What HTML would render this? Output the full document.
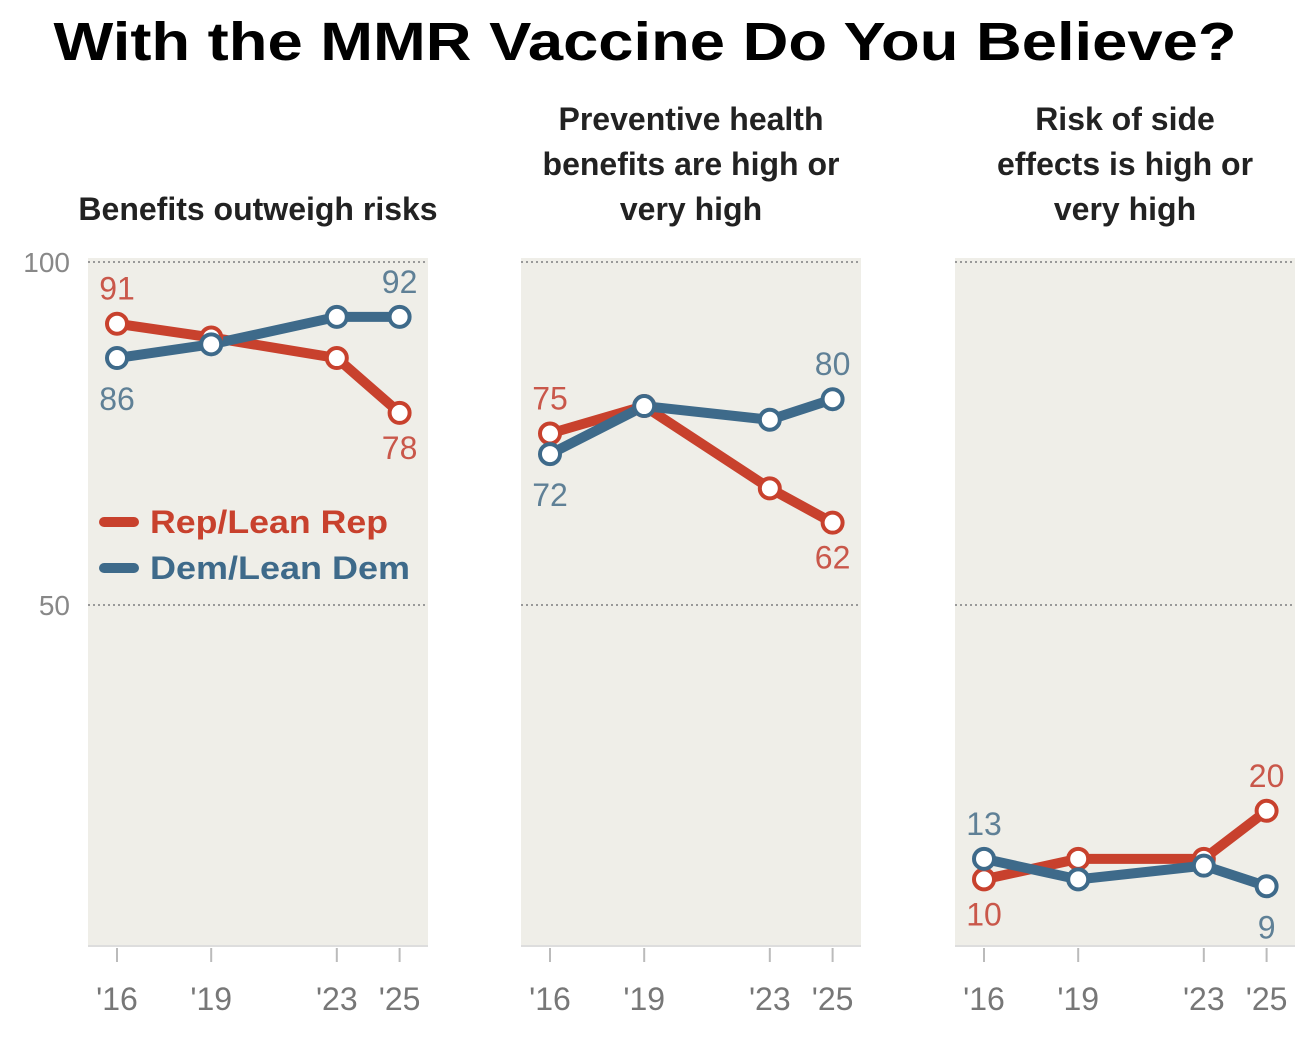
<!DOCTYPE html>
<html><head><meta charset="utf-8"><style>
body{margin:0;background:#fff;width:1298px;height:1042px;overflow:hidden;font-family:"Liberation Sans",sans-serif}
</style></head><body>
<svg id="chart" width="1298" height="1042" xmlns="http://www.w3.org/2000/svg" font-family="Liberation Sans, sans-serif">
<text x="645" y="60" text-anchor="middle" font-size="54" font-weight="bold" fill="#000" textLength="1183" lengthAdjust="spacingAndGlyphs">With the MMR Vaccine Do You Believe?</text>
<g id="g"></g>
</svg>
<script>
const years = [2016, 2019, 2023, 2025];
const yearLabels = ["'16", "'19", "'23", "'25"];
const panelTitles = [["Benefits outweigh risks"], ["Preventive health","benefits are high or","very high"], ["Risk of side","effects is high or","very high"]];
const repValues = [[91, 89, 86, 78], [75, 79, 67, 62], [10, 13, 13, 20]];
const demValues = [[86, 88, 92, 92], [72, 79, 77, 80], [13, 10, 12, 9]];
const yTicks = [100, 50];

const NS = "http://www.w3.org/2000/svg";
const g = document.getElementById('g');
const RED = "#c8412d", BLUE = "#3e6a8a", RLAB = "#c9574a", BLAB = "#5f8096";
function mk(tag, attrs, parent) { const e = document.createElementNS(NS, tag); for (const k in attrs) e.setAttribute(k, attrs[k]); (parent || g).appendChild(e); return e; }
const panelLeft = [88, 521, 955], panelW = 340;
function yS(v) { return 948 - v * 6.86; }
function xS(p, yr) { return panelLeft[p] + 29 + (yr - 2016) * 31.4; }

for (let p = 0; p < 3; p++) {
  const L = panelLeft[p];
  const bg = mk('rect', {x: L, y: 258, width: panelW, height: 688, fill: "#efeee8"});
  
  
  yTicks.forEach(t => {
    const l = mk('line', {x1: L, x2: L + panelW, y1: yS(t), y2: yS(t), stroke: "#999", "stroke-width": 2, "stroke-dasharray": "2 3"});
    
    
    if (p === 0) {
      const tx = mk('text', {x: 70, y: yS(t) + 10, "text-anchor": "end", "font-size": 28, fill: "#888"});
      tx.textContent = t;
      
      
    }
  });
  const base = mk('line', {x1: L, x2: L + panelW, y1: 946, y2: 946, stroke: "#ddd", "stroke-width": 2});
  
  
  years.forEach((yr, i) => {
    const x = xS(p, yr);
    const tk = mk('line', {x1: x, x2: x, y1: 948, y2: 962, stroke: "#bbb", "stroke-width": 2});
    
    
    const tx = mk('text', {x: x, y: 1010, "text-anchor": "middle", "font-size": 32, fill: "#777"});
    tx.textContent = yearLabels[i];
    
    
  });
  const lines = panelTitles[p];
  lines.forEach((s, i) => {
    const tx = mk('text', {x: L + panelW / 2, y: 220 - (lines.length - 1 - i) * 45, "text-anchor": "middle", "font-size": 32, "font-weight": "bold", fill: "#222"});
    tx.textContent = s;
    
    
  });
  [[repValues[p], RED, 'rep'], [demValues[p], BLUE, 'dem']].forEach(([vals, col, nm]) => {
    const pts = vals.map((v, i) => xS(p, years[i]) + ',' + yS(v)).join(' ');
    const pl = mk('polyline', {points: pts, fill: "none", stroke: col, "stroke-width": 10, "stroke-linejoin": "round"});
    
    
  });
  [[repValues[p], RED, 'rep'], [demValues[p], BLUE, 'dem']].forEach(([vals, col, nm]) => {
    vals.forEach((v, i) => {
      const c = mk('circle', {cx: xS(p, years[i]), cy: yS(v), r: 10, fill: "#fff", stroke: col, "stroke-width": 4});
      
      
    });
  });
  const r = repValues[p], d = demValues[p];
  [0, 3].forEach(i => {
    const rAbove = r[i] >= d[i];
    const rl = mk('text', {x: xS(p, years[i]), y: rAbove ? yS(r[i]) - 24 : yS(r[i]) + 46, "text-anchor": "middle", "font-size": 32, fill: RLAB});
    rl.textContent = r[i];
    
    
    const dl = mk('text', {x: xS(p, years[i]), y: rAbove ? yS(d[i]) + 52 : yS(d[i]) - 24, "text-anchor": "middle", "font-size": 32, fill: BLAB});
    dl.textContent = d[i];
    
    
  });
}
[["Rep/Lean Rep", RED, 522, 'legend-rep', 238], ["Dem/Lean Dem", BLUE, 568, 'legend-dem', 260]].forEach(([s, c, y, nm, w]) => {
  const l = mk('line', {x1: 104, x2: 134, y1: y, y2: y, stroke: c, "stroke-width": 10, "stroke-linecap": "round"});
  
  
  const t = mk('text', {x: 150, y: y + 11, "font-size": 32, "font-weight": "bold", fill: c, textLength: w, lengthAdjust: "spacingAndGlyphs"});
  t.textContent = s;
  
  
});
</script>
</body></html>
